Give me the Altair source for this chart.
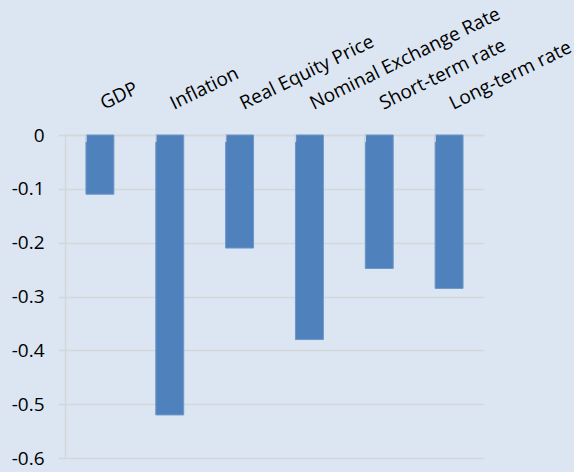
import altair as alt
import pandas as pd

categories = ["GDP", "Inflation", "Real Equity Price", "Nominal Exchange Rate", "Short-term rate", "Long-term rate"]
values = [-0.11, -0.52, -0.21, -0.38, -0.248, -0.285]

df = pd.DataFrame({"cat": categories, "val": values})

BG = "#dce6f2"
GRID = "#d3d7db"
FONT = "Open Sans"

xscale = alt.Scale(domain=categories, paddingInner=0.6, paddingOuter=0.3)
yscale = alt.Scale(domain=[-0.6, 0], nice=False)

yaxis = alt.Axis(values=[0, -0.1, -0.2, -0.3, -0.4, -0.5, -0.6],
                 labelExpr="replace(format(datum.value, '.1~f'), '\u2212', '-')",
                 labelFontSize=19, labelFont=FONT, labelColor="#000000", labelPadding=14,
                 tickSize=7, tickColor=GRID, tickWidth=1.5,
                 domain=True, domainColor=GRID, domainWidth=1.5,
                 grid=True, gridColor=GRID, gridWidth=1.5)

bars = alt.Chart(df).mark_bar(color="#4f81bd", stroke="#6d97c9", strokeWidth=1).encode(
    x=alt.X("cat:N", scale=xscale, sort=categories, title=None,
            axis=alt.Axis(orient="top", labelAngle=-26, labelAlign="left", labelBaseline="bottom",
                          labelPadding=22, labelOffset=6, labelFontSize=19, labelFont=FONT,
                          labelColor="#000000", labelLimit=0, ticks=False,
                          domain=True, domainColor=GRID, domainWidth=1.5, grid=False)),
    y=alt.Y("val:Q", scale=yscale, title=None, axis=yaxis),
)

ticks = alt.Chart(df).mark_rule(color=GRID, strokeWidth=1.5).encode(
    x=alt.X("cat:N", scale=xscale, sort=categories, bandPosition=0),
    y=alt.value(0),
    y2=alt.value(7),
)

chart = alt.layer(bars, ticks).properties(
    width=419, height=323,
    background=BG,
    autosize=alt.AutoSizeParams(type="none"),
    padding={"left": 65, "top": 135, "right": 90, "bottom": 14},
).configure_view(stroke=None)

chart.save("out.html", embed_options={"renderer": "svg", "actions": False})
